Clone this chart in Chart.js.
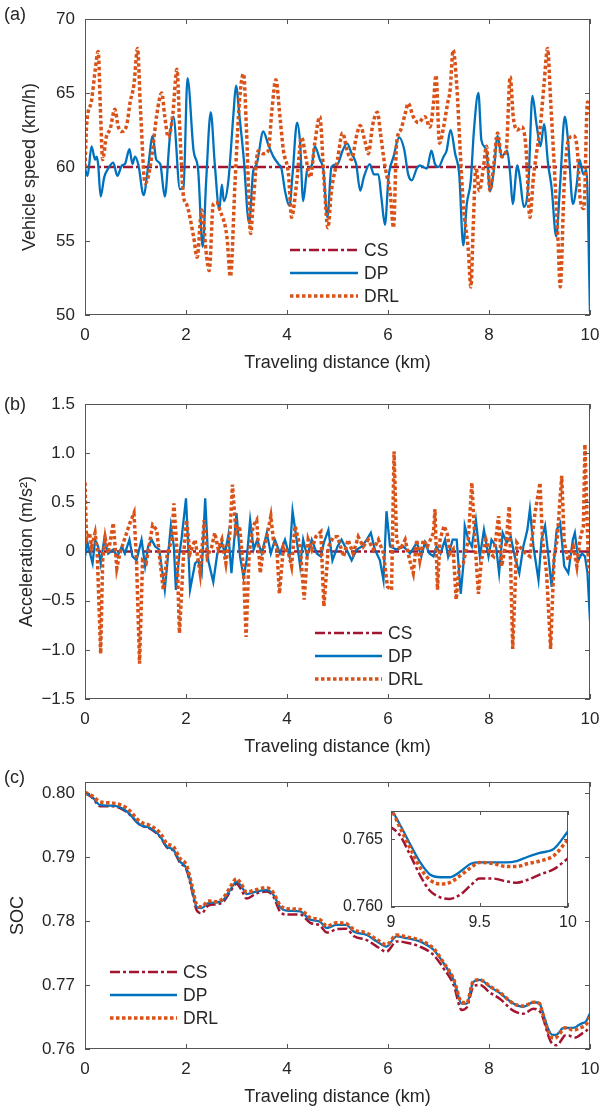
<!DOCTYPE html>
<html>
<head>
<meta charset="utf-8">
<script src="https://cdn.jsdelivr.net/npm/chart.js@4.4.1/dist/chart.umd.min.js"></script>
<style>
  body { margin: 0; background: #fff; }
  #page { position: relative; width: 599px; height: 1108px; overflow: hidden; }
  canvas { position: absolute; }
</style>
</head>
<body>
<div id="page">
  <canvas id="speed-chart" width="599" height="380" style="left:0;top:0"></canvas>
  <canvas id="acc-chart" width="599" height="385" style="left:0;top:380px"></canvas>
  <canvas id="soc-chart" width="599" height="343" style="left:0;top:765px"></canvas>
  <canvas id="soc-inset" width="262" height="140" style="left:320px;top:795px"></canvas>
</div>
<script>
// ---- data ----
const seriesNames = ['CS', 'DP', 'DRL'];

// (a) vehicle speed, km/h
const csSpeedDist = [0, 10];
const csSpeed = [60, 60];
const dpSpeedDist = [0, 0.05, 0.13, 0.20, 0.23, 0.26, 0.31, 0.38, 0.46, 0.56, 0.64, 0.73, 0.79, 0.88, 0.94, 0.99, 1.06, 1.16, 1.25, 1.34, 1.41, 1.49, 1.58, 1.68, 1.75, 1.88, 1.95, 2.03, 2.15, 2.24, 2.33, 2.40, 2.49, 2.57, 2.66, 2.71, 2.75, 2.84, 2.94, 2.99, 3.06, 3.14, 3.25, 3.33, 3.40, 3.53, 3.63, 3.73, 3.83, 3.89, 3.96, 4.05, 4.11, 4.20, 4.26, 4.32, 4.40, 4.49, 4.55, 4.65, 4.72, 4.80, 4.88, 5.00, 5.10, 5.19, 5.28, 5.37, 5.45, 5.52, 5.64, 5.72, 5.81, 5.87, 5.94, 6.01, 6.11, 6.22, 6.32, 6.40, 6.47, 6.57, 6.63, 6.77, 6.86, 6.93, 7.00, 7.10, 7.16, 7.24, 7.33, 7.41, 7.49, 7.56, 7.64, 7.70, 7.79, 7.85, 7.95, 8.02, 8.10, 8.17, 8.25, 8.36, 8.42, 8.47, 8.56, 8.61, 8.69, 8.78, 8.86, 8.94, 9.02, 9.09, 9.17, 9.24, 9.33, 9.41, 9.50, 9.57, 9.66, 9.74, 9.79, 9.87, 9.93, 10.0];
const dpSpeed = [59.9, 59.4, 61.4, 60.5, 60.7, 60.2, 58.0, 59.3, 59.9, 60.3, 59.4, 60.1, 60.2, 61.2, 60.2, 60.7, 60.1, 58.1, 60.0, 62.1, 60.5, 60.2, 58.0, 62.0, 63.4, 58.5, 58.6, 66.0, 61.1, 59.8, 54.6, 59.1, 63.7, 60.2, 57.1, 58.8, 57.7, 59.1, 63.6, 65.5, 63.4, 60.7, 56.2, 59.7, 60.2, 62.4, 61.5, 60.7, 60.2, 59.9, 58.4, 57.4, 59.5, 63.0, 61.6, 57.7, 59.8, 60.1, 61.4, 60.5, 59.8, 56.6, 60.0, 60.2, 61.1, 61.6, 60.9, 60.2, 58.4, 59.3, 60.2, 59.5, 59.5, 57.9, 56.1, 59.3, 60.7, 62.0, 61.2, 59.5, 59.1, 59.9, 60.1, 59.9, 61.1, 60.2, 60.0, 60.7, 61.1, 62.5, 60.9, 59.5, 54.7, 57.5, 59.1, 62.4, 65.0, 61.8, 61.1, 58.4, 59.9, 62.1, 60.7, 61.1, 59.5, 57.5, 60.1, 59.3, 57.3, 58.9, 64.8, 62.9, 61.4, 62.9, 60.2, 58.6, 55.3, 58.9, 63.4, 61.6, 57.5, 58.9, 60.5, 59.5, 59.8, 50.2];
const drlSpeedDist = [0, 0.03, 0.13, 0.20, 0.26, 0.31, 0.35, 0.42, 0.50, 0.59, 0.66, 0.73, 0.83, 0.89, 0.97, 1.04, 1.10, 1.19, 1.25, 1.34, 1.42, 1.52, 1.58, 1.65, 1.74, 1.82, 1.88, 1.95, 2.01, 2.15, 2.22, 2.31, 2.41, 2.46, 2.54, 2.61, 2.67, 2.81, 2.88, 2.97, 3.06, 3.14, 3.20, 3.28, 3.33, 3.43, 3.53, 3.63, 3.70, 3.78, 3.86, 3.93, 4.03, 4.09, 4.19, 4.29, 4.37, 4.46, 4.55, 4.65, 4.73, 4.81, 4.88, 5.00, 5.10, 5.19, 5.28, 5.37, 5.45, 5.54, 5.61, 5.70, 5.79, 5.85, 5.92, 5.97, 6.04, 6.11, 6.17, 6.25, 6.34, 6.40, 6.50, 6.60, 6.73, 6.83, 6.90, 6.95, 7.02, 7.10, 7.18, 7.23, 7.29, 7.36, 7.43, 7.49, 7.59, 7.64, 7.69, 7.74, 7.81, 7.89, 7.95, 8.02, 8.09, 8.17, 8.25, 8.34, 8.42, 8.48, 8.56, 8.65, 8.73, 8.81, 8.88, 8.94, 9.02, 9.09, 9.16, 9.22, 9.31, 9.37, 9.41, 9.49, 9.57, 9.67, 9.75, 9.80, 9.88, 9.95, 10.0];
const drlSpeed = [60.0, 62.7, 64.5, 66.5, 67.8, 63.4, 60.5, 62.0, 62.6, 63.9, 62.7, 62.4, 62.9, 64.3, 65.6, 68.0, 63.8, 58.9, 59.3, 61.2, 63.5, 65.0, 63.4, 62.0, 63.6, 66.6, 62.3, 58.0, 57.5, 55.3, 53.9, 57.1, 53.9, 53.0, 57.5, 57.6, 57.1, 55.3, 52.6, 58.9, 64.5, 66.3, 62.3, 55.5, 57.5, 61.1, 60.9, 61.1, 63.8, 65.9, 63.4, 61.1, 59.5, 56.6, 58.9, 62.0, 60.7, 59.3, 61.6, 63.4, 59.3, 55.9, 58.4, 60.5, 62.3, 61.1, 60.5, 62.0, 62.8, 61.8, 60.9, 62.9, 63.7, 62.3, 60.5, 59.5, 58.4, 55.9, 61.6, 62.5, 63.6, 64.3, 63.4, 63.0, 63.4, 62.7, 64.3, 66.2, 61.6, 62.7, 64.3, 65.2, 67.9, 65.6, 61.1, 57.5, 54.4, 51.9, 56.2, 60.0, 58.4, 60.0, 61.4, 58.4, 60.0, 62.3, 60.7, 61.1, 66.1, 63.4, 62.5, 62.7, 61.4, 56.6, 59.3, 60.9, 62.9, 65.6, 68.0, 64.5, 58.9, 54.8, 51.9, 58.9, 61.8, 62.1, 61.1, 58.0, 57.2, 64.4, 63.6];
const speedTicks = [50, 55, 60, 65, 70];

// (b) acceleration, m/s^2
const csAccDist = [0, 10];
const csAcc = [0, 0];
const dpAccDist = [0, 0.05, 0.10, 0.15, 0.20, 0.26, 0.31, 0.38, 0.46, 0.56, 0.64, 0.73, 0.79, 0.88, 0.94, 1.02, 1.12, 1.19, 1.25, 1.32, 1.39, 1.47, 1.58, 1.70, 1.76, 1.80, 1.87, 1.91, 2.00, 2.05, 2.08, 2.18, 2.24, 2.31, 2.38, 2.44, 2.54, 2.62, 2.71, 2.77, 2.84, 2.90, 2.95, 3.00, 3.07, 3.14, 3.20, 3.27, 3.34, 3.41, 3.50, 3.60, 3.68, 3.76, 3.86, 3.96, 4.05, 4.11, 4.19, 4.26, 4.32, 4.40, 4.49, 4.59, 4.67, 4.73, 4.82, 4.90, 5.00, 5.08, 5.18, 5.28, 5.38, 5.48, 5.58, 5.66, 5.74, 5.84, 5.91, 5.97, 6.04, 6.17, 6.31, 6.44, 6.57, 6.66, 6.73, 6.82, 6.90, 6.96, 7.04, 7.13, 7.19, 7.28, 7.36, 7.44, 7.49, 7.52, 7.59, 7.66, 7.74, 7.82, 7.90, 7.99, 8.05, 8.14, 8.20, 8.27, 8.35, 8.43, 8.51, 8.60, 8.68, 8.76, 8.81, 8.88, 8.98, 9.04, 9.11, 9.17, 9.24, 9.34, 9.41, 9.49, 9.57, 9.66, 9.70, 9.77, 9.84, 9.90, 9.95, 10.0];
const dpAcc = [-0.05, 0.09, -0.02, -0.12, 0.12, 0.05, -0.12, 0.12, -0.02, 0.02, -0.05, 0.05, -0.02, 0.12, -0.05, -0.09, 0.12, -0.15, 0.05, 0.12, 0.05, 0.02, -0.39, 0.26, 0.05, -0.39, -0.02, 0.12, 0.54, -0.02, -0.39, -0.12, -0.09, -0.22, 0.54, -0.09, -0.31, -0.02, 0.09, -0.02, 0.17, -0.22, 0.09, 0.39, -0.05, -0.26, -0.09, 0.32, 0.02, 0.12, -0.02, 0.19, -0.02, 0.12, -0.02, 0.12, -0.05, 0.41, 0.12, -0.15, 0.12, -0.05, 0.12, -0.02, -0.05, 0.09, 0.22, -0.09, 0.05, 0.12, 0.02, -0.09, 0.02, 0.05, 0.12, 0.19, 0.02, -0.09, -0.29, 0.41, 0.05, 0.02, 0.05, -0.02, 0.09, -0.05, 0.09, -0.02, -0.05, 0.05, -0.02, 0.12, -0.05, 0.12, 0.12, -0.43, -0.15, 0.26, 0.12, 0.05, 0.32, -0.05, 0.22, -0.05, 0.12, 0.05, -0.22, 0.19, 0.09, 0.15, -0.05, -0.22, 0.05, 0.22, 0.43, 0.05, -0.29, 0.12, 0.26, -0.02, -0.36, 0.22, 0.29, -0.15, -0.22, 0.12, 0.19, -0.09, -0.02, -0.05, -0.22, -0.70];
const drlAccDist = [0, 0.03, 0.09, 0.13, 0.20, 0.24, 0.31, 0.35, 0.40, 0.46, 0.56, 0.63, 0.69, 0.76, 0.89, 0.97, 1.02, 1.08, 1.14, 1.21, 1.29, 1.34, 1.42, 1.47, 1.55, 1.63, 1.72, 1.76, 1.82, 1.87, 1.95, 2.01, 2.08, 2.18, 2.28, 2.36, 2.42, 2.51, 2.57, 2.64, 2.71, 2.79, 2.87, 2.92, 2.99, 3.06, 3.14, 3.19, 3.25, 3.33, 3.40, 3.47, 3.53, 3.60, 3.68, 3.73, 3.80, 3.85, 3.93, 4.03, 4.09, 4.16, 4.26, 4.34, 4.42, 4.49, 4.57, 4.67, 4.73, 4.82, 4.92, 5.00, 5.12, 5.21, 5.31, 5.41, 5.51, 5.61, 5.71, 5.81, 5.91, 5.99, 6.07, 6.12, 6.17, 6.24, 6.34, 6.43, 6.50, 6.57, 6.63, 6.70, 6.78, 6.90, 6.93, 6.98, 7.03, 7.11, 7.17, 7.23, 7.29, 7.35, 7.41, 7.49, 7.59, 7.66, 7.72, 7.79, 7.85, 7.94, 8.02, 8.09, 8.19, 8.25, 8.34, 8.40, 8.47, 8.55, 8.65, 8.73, 8.81, 8.91, 9.01, 9.06, 9.14, 9.22, 9.29, 9.35, 9.44, 9.49, 9.57, 9.67, 9.74, 9.80, 9.87, 9.90, 9.97, 10.0];
const drlAcc = [0.70, 0.12, 0.19, 0.05, 0.19, 0.02, -1.04, -0.09, 0.14, -0.02, 0.29, -0.17, -0.02, 0.09, 0.29, 0.39, -0.09, -1.14, -0.09, -0.12, 0.12, 0.27, 0.22, -0.02, -0.39, -0.02, 0.12, 0.49, 0.02, -0.83, -0.05, 0.32, -0.02, 0.12, -0.22, 0.32, -0.05, 0.05, 0.19, 0.02, 0.12, -0.12, 0.19, 0.68, 0.19, 0.26, -0.19, -0.87, -0.02, 0.26, 0.32, -0.22, 0.02, 0.15, 0.36, 0.12, 0.02, -0.43, 0.05, -0.02, -0.15, 0.26, 0.05, -0.49, 0.12, 0.02, 0.15, 0.20, -0.56, 0.05, 0.15, 0.15, -0.05, 0.12, -0.02, 0.15, 0.05, 0.12, 0.02, 0.12, -0.02, -0.36, -0.39, 1.02, 0.12, 0.02, 0.12, -0.09, -0.22, 0.12, -0.09, 0.12, 0.05, 0.19, 0.43, -0.39, 0.12, 0.26, 0.19, -0.02, 0.02, -0.49, -0.15, -0.12, 0.12, 0.70, 0.12, -0.43, -0.09, 0.12, -0.02, -0.05, 0.36, -0.15, 0.09, 0.46, -0.99, 0.09, 0.02, -0.02, -0.05, 0.39, 0.70, 0.12, -0.22, -0.99, -0.05, 0.12, 0.77, 0.09, -0.09, 0.05, -0.15, 0.12, 0.26, 1.09, -0.15, -0.22];
const accTicks = [-1.5, -1.0, -0.5, 0, 0.5, 1.0, 1.5];

// (c) state of charge
const socDist = [0, 0.15, 0.30, 0.56, 0.83, 1.09, 1.29, 1.49, 1.62, 1.75, 1.88, 2.01, 2.11, 2.21, 2.31, 2.44, 2.61, 2.74, 2.87, 3.00, 3.10, 3.20, 3.40, 3.60, 3.73, 3.86, 3.99, 4.26, 4.46, 4.65, 4.79, 4.98, 5.17, 5.33, 5.58, 5.78, 5.97, 6.17, 6.37, 6.63, 6.90, 7.10, 7.30, 7.46, 7.56, 7.69, 7.82, 8.02, 8.22, 8.48, 8.68, 8.88, 9.00, 9.05, 9.11, 9.17, 9.22, 9.28, 9.33, 9.39, 9.45, 9.50, 9.58, 9.65, 9.71, 9.77, 9.84, 9.92, 10.0];
const csSoc = [0.8000, 0.7992, 0.7979, 0.7979, 0.7970, 0.7950, 0.7944, 0.7931, 0.7915, 0.7910, 0.7891, 0.7880, 0.7850, 0.7817, 0.7812, 0.7824, 0.7826, 0.7830, 0.7845, 0.7858, 0.7848, 0.7835, 0.7843, 0.7846, 0.7838, 0.7815, 0.7810, 0.7810, 0.7797, 0.7793, 0.7782, 0.7787, 0.7788, 0.7776, 0.7770, 0.7760, 0.7752, 0.7768, 0.7766, 0.7760, 0.7747, 0.7726, 0.7700, 0.7661, 0.7665, 0.7697, 0.7700, 0.7688, 0.7678, 0.7660, 0.7655, 0.7663, 0.7659, 0.7653, 0.7638, 0.7622, 0.7612, 0.7607, 0.7606, 0.7609, 0.7616, 0.7621, 0.7621, 0.7619, 0.7618, 0.7620, 0.7624, 0.7628, 0.7636];
const dpSoc = [0.8000, 0.7993, 0.7981, 0.7980, 0.7971, 0.7950, 0.7945, 0.7932, 0.7916, 0.7911, 0.7893, 0.7882, 0.7854, 0.7822, 0.7820, 0.7828, 0.7829, 0.7833, 0.7848, 0.7861, 0.7854, 0.7842, 0.7846, 0.7848, 0.7841, 0.7822, 0.7816, 0.7815, 0.7802, 0.7799, 0.7789, 0.7794, 0.7794, 0.7783, 0.7778, 0.7768, 0.7760, 0.7776, 0.7773, 0.7768, 0.7755, 0.7734, 0.7708, 0.7671, 0.7671, 0.7705, 0.7708, 0.7697, 0.7687, 0.7671, 0.7666, 0.7673, 0.7671, 0.7661, 0.7646, 0.7632, 0.7624, 0.7622, 0.7622, 0.7626, 0.7632, 0.7633, 0.7633, 0.7633, 0.7634, 0.7637, 0.7640, 0.7643, 0.7656];
const drlSoc = [0.8001, 0.7995, 0.7986, 0.7984, 0.7976, 0.7955, 0.7949, 0.7937, 0.7921, 0.7916, 0.7898, 0.7887, 0.7858, 0.7826, 0.7822, 0.7831, 0.7830, 0.7836, 0.7852, 0.7866, 0.7857, 0.7845, 0.7849, 0.7852, 0.7844, 0.7825, 0.7819, 0.7818, 0.7805, 0.7802, 0.7792, 0.7797, 0.7796, 0.7786, 0.7781, 0.7771, 0.7763, 0.7778, 0.7775, 0.7770, 0.7757, 0.7735, 0.7709, 0.7673, 0.7672, 0.7706, 0.7708, 0.7698, 0.7688, 0.7671, 0.7667, 0.7673, 0.7671, 0.7659, 0.7643, 0.7628, 0.7620, 0.7617, 0.7618, 0.7623, 0.7629, 0.7633, 0.7632, 0.7630, 0.7630, 0.7632, 0.7634, 0.7638, 0.7650];
const socTicks = [0.76, 0.77, 0.78, 0.79, 0.80];
const insetSocTicks = [0.760, 0.765];
const insetDistTicks = [9, 9.5, 10];
const distTicks = [0, 2, 4, 6, 8, 10];

// ---- styles ----
const TEXT = '#262626';
const FRAME = '#555555';
Chart.defaults.font.family = '"Liberation Sans", Arial, sans-serif';
Chart.defaults.color = TEXT;

const styles = [
  { borderColor: '#A2142F', borderWidth: 2.5, borderDash: [10, 3, 3, 3] },
  { borderColor: '#0072BD', borderWidth: 2.3, borderDash: [] },
  { borderColor: '#D95319', borderWidth: 3.5, borderDash: [3.5, 2.5] }
];

const pts = (xs, ys) => xs.map((x, i) => ({ x: x, y: ys[i] }));

function makeDatasets(series, smooth) {
  return series.map((s, i) => ({
    label: seriesNames[i],
    data: pts(s[0], s[1]),
    borderColor: styles[i].borderColor,
    borderWidth: styles[i].borderWidth,
    borderDash: styles[i].borderDash,
    pointRadius: 0,
    fill: false,
    cubicInterpolationMode: smooth ? 'monotone' : 'default',
    tension: 0,
    order: 3 - i
  }));
}

// box around the plot area with inward ticks on all four sides
const axesBox = {
  id: 'axesBox',
  beforeDatasetsDraw(chart, args, opts) {
    if (!opts.fill) return;
    const a = chart.chartArea;
    chart.ctx.save();
    chart.ctx.fillStyle = '#fff';
    chart.ctx.fillRect(a.left, a.top, a.width, a.height);
    chart.ctx.restore();
  },
  afterDatasetsDraw(chart, args, opts) {
    const { ctx, chartArea: a, scales } = chart;
    const len = opts.tick || 5;
    ctx.save();
    ctx.strokeStyle = FRAME;
    ctx.lineWidth = 1;
    ctx.setLineDash([]);
    ctx.strokeRect(a.left + 0.5, a.top + 0.5, a.width - 1, a.height - 1);
    ctx.beginPath();
    scales.x.ticks.forEach(t => {
      const px = Math.round(scales.x.getPixelForValue(t.value)) + 0.5;
      ctx.moveTo(px, a.bottom); ctx.lineTo(px, a.bottom - len);
      ctx.moveTo(px, a.top); ctx.lineTo(px, a.top + len);
    });
    scales.y.ticks.forEach(t => {
      const py = Math.round(scales.y.getPixelForValue(t.value)) + 0.5;
      ctx.moveTo(a.left, py); ctx.lineTo(a.left + len, py);
      ctx.moveTo(a.right, py); ctx.lineTo(a.right - len, py);
    });
    ctx.stroke();
    ctx.restore();
  }
};

// legend drawn inside the plot + panel tag
const lineLegend = {
  id: 'lineLegend',
  afterDraw(chart, args, opts) {
    if (!opts.x) return;
    const ctx = chart.ctx;
    ctx.save();
    ctx.font = '17.5px "Liberation Sans", Arial, sans-serif';
    ctx.textBaseline = 'middle';
    ctx.fillStyle = TEXT;
    chart.data.datasets.forEach((ds, i) => {
      const y = opts.y + i * opts.gap;
      ctx.beginPath();
      ctx.strokeStyle = ds.borderColor;
      ctx.lineWidth = ds.borderWidth;
      ctx.setLineDash(ds.borderDash);
      ctx.moveTo(opts.x, y);
      ctx.lineTo(opts.x + opts.len, y);
      ctx.stroke();
      ctx.setLineDash([]);
      ctx.fillText(ds.label, opts.x + opts.len + 6, y + 1);
    });
    if (opts.tag) {
      ctx.font = '18px "Liberation Sans", Arial, sans-serif';
      ctx.fillText(opts.tag, opts.tagX, opts.tagY);
    }
    ctx.restore();
  }
};

function makeScales(c) {
  return {
    x: {
      type: 'linear', min: c.xMin, max: c.xMax,
      grid: { display: false, drawTicks: false },
      border: { display: false },
      afterBuildTicks: s => { s.ticks = c.xTicks.map(v => ({ value: v })); },
      ticks: { padding: c.xPad, autoSkip: false, maxRotation: 0, font: { size: c.tickSize }, callback: c.xFmt },
      title: { display: !!c.xTitle, text: c.xTitle, font: { size: 18 }, padding: { top: 0, bottom: c.xTitlePad } },
      afterFit: s => { s.height = c.xHeight; s.paddingLeft = 0; s.paddingRight = 0; }
    },
    y: {
      type: 'linear', min: c.yMin, max: c.yMax,
      grid: { display: false, drawTicks: false },
      border: { display: false },
      afterBuildTicks: s => { s.ticks = c.yTicks.map(v => ({ value: v })); },
      ticks: { padding: c.yPad, autoSkip: false, font: { size: c.tickSize }, callback: c.yFmt },
      title: { display: !!c.yTitle, text: c.yTitle, font: { size: 18 }, padding: { top: c.yTitlePad, bottom: 0 } },
      afterFit: s => { s.width = c.yWidth; s.paddingTop = 0; s.paddingBottom = 0; }
    }
  };
}

function makeChart(id, datasets, pad, scales, legend, box) {
  return new Chart(document.getElementById(id).getContext('2d'), {
    type: 'line',
    data: { datasets: datasets },
    options: {
      responsive: false,
      animation: false,
      events: [],
      layout: { padding: pad },
      scales: scales,
      plugins: { legend: { display: false }, tooltip: { enabled: false }, lineLegend: legend, axesBox: box }
    },
    plugins: [axesBox, lineLegend]
  });
}

const fmtInt = v => String(v);

// (a) speed
makeChart('speed-chart',
  makeDatasets([[csSpeedDist, csSpeed], [dpSpeedDist, dpSpeed], [drlSpeedDist, drlSpeed]], true),
  { top: 19, right: 9, left: 0, bottom: 0 },
  makeScales({
    xMin: 0, xMax: 10, xTicks: distTicks, xFmt: fmtInt, xPad: 10, xHeight: 65,
    xTitle: 'Traveling distance (km)', xTitlePad: 6,
    yMin: 50, yMax: 70, yTicks: speedTicks, yFmt: fmtInt, yPad: 10, yWidth: 85,
    yTitle: 'Vehicle speed (km/h)', yTitlePad: 19, tickSize: 17
  }),
  { x: 290, y: 250, gap: 23, len: 68, tag: '(a)', tagX: 4, tagY: 15 },
  { tick: 5 });

// (b) acceleration
makeChart('acc-chart',
  makeDatasets([[csAccDist, csAcc], [dpAccDist, dpAcc], [drlAccDist, drlAcc]], false),
  { top: 24, right: 9, left: 0, bottom: 0 },
  makeScales({
    xMin: 0, xMax: 10, xTicks: distTicks, xFmt: fmtInt, xPad: 10, xHeight: 66,
    xTitle: 'Traveling distance (km)', xTitlePad: 7,
    yMin: -1.5, yMax: 1.5, yTicks: accTicks,
    yFmt: v => v === 0 ? '0' : (v < 0 ? '\u2212' : '') + Math.abs(v).toFixed(1),
    yPad: 10, yWidth: 85, yTitle: 'Acceleration (m/s\u00b2)', yTitlePad: 16, tickSize: 17
  }),
  { x: 315, y: 253, gap: 23, len: 67, tag: '(b)', tagX: 4, tagY: 25 },
  { tick: 5 });

// (c) SOC
makeChart('soc-chart',
  makeDatasets([[socDist, csSoc], [socDist, dpSoc], [socDist, drlSoc]], true),
  { top: 17, right: 9, left: 0, bottom: 0 },
  makeScales({
    xMin: 0, xMax: 10, xTicks: distTicks, xFmt: fmtInt, xPad: 10, xHeight: 59,
    xTitle: 'Traveling distance (km)', xTitlePad: 0,
    yMin: 0.76, yMax: 0.8017, yTicks: socTicks, yFmt: v => v.toFixed(2),
    yPad: 10, yWidth: 85, yTitle: 'SOC', yTitlePad: 7, tickSize: 17
  }),
  { x: 110, y: 207, gap: 23, len: 67, tag: '(c)', tagX: 4, tagY: 13 },
  { tick: 5 });

// (c) inset, 9-10 km
makeChart('soc-inset',
  makeDatasets([[socDist, csSoc], [socDist, dpSoc], [socDist, drlSoc]], true),
  { top: 16, right: 14, left: 0, bottom: 0 },
  makeScales({
    xMin: 9, xMax: 10, xTicks: insetDistTicks, xFmt: fmtInt, xPad: 6, xHeight: 28,
    yMin: 0.760, yMax: 0.7671, yTicks: insetSocTicks, yFmt: v => v.toFixed(3),
    yPad: 8, yWidth: 71, tickSize: 16
  }),
  {},
  { tick: 4, fill: true });
</script>
</body>
</html>
